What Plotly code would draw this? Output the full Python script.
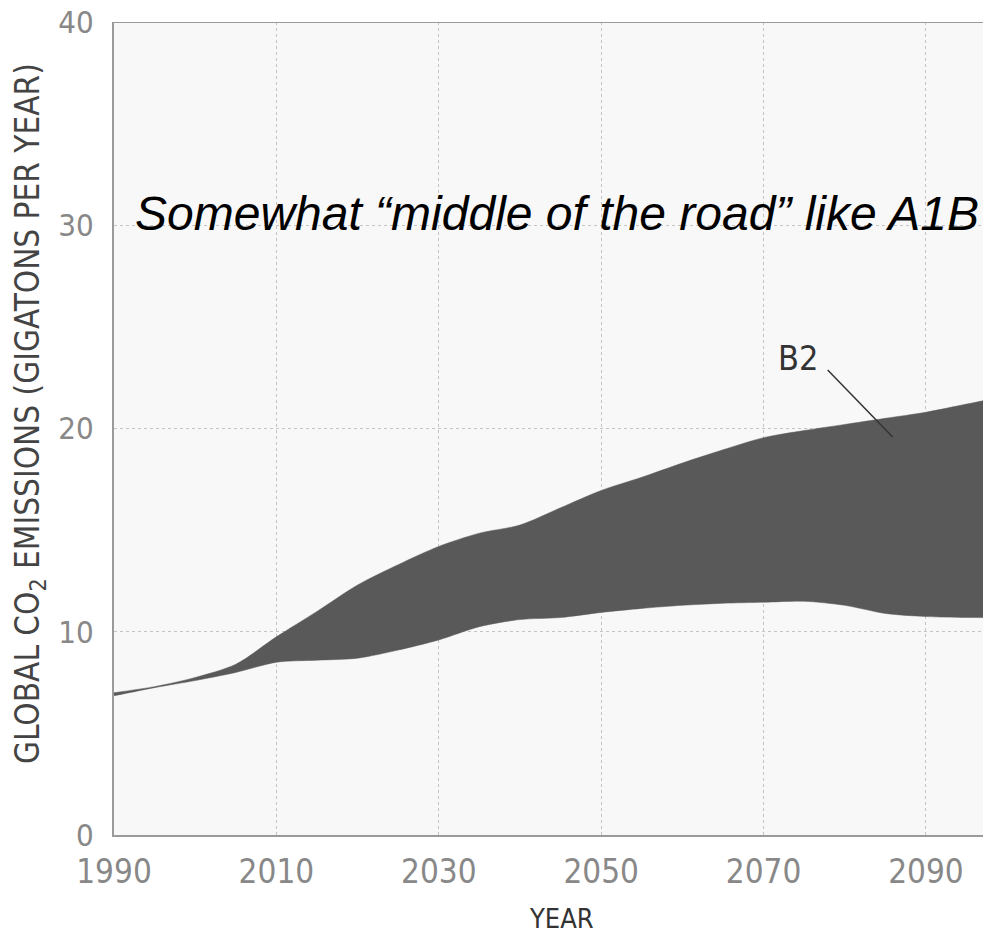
import plotly.graph_objects as go

years = [1990, 1995, 2000, 2005, 2010, 2015, 2020, 2025, 2030, 2035, 2040, 2045,
         2050, 2055, 2060, 2065, 2070, 2075, 2080, 2085, 2090, 2095, 2100]
b2_upper = [7.0, 7.3, 7.75, 8.4, 9.75, 11.0, 12.3, 13.3, 14.2, 14.85, 15.25, 16.1,
            16.95, 17.6, 18.3, 18.95, 19.55, 19.9, 20.2, 20.5, 20.8, 21.2, 21.6]
b2_lower = [6.85, 7.25, 7.6, 8.0, 8.5, 8.6, 8.7, 9.1, 9.6, 10.25, 10.6, 10.7,
            10.95, 11.15, 11.3, 11.4, 11.45, 11.5, 11.3, 10.9, 10.75, 10.7, 10.7]
x_ticks = [1990, 2010, 2030, 2050, 2070, 2090]
y_ticks = [0, 10, 20, 30, 40]

NARROW = "Liberation Sans Narrow, DejaVu Sans Condensed, Arial Narrow, sans-serif"
BAND = "#595959"

# page body has an 8px default margin: lay out in figure coords = screen - 8
PW = 991 - 106      # plot width in px
PH = 933 - 14 - 106  # plot height in px


def px_x(sx):
    return (sx - 114) / PW


def px_y(sy):
    return (835 - sy) / PH


fig = go.Figure()
fig.add_trace(go.Scatter(x=years, y=b2_lower, mode="lines",
                         line=dict(color=BAND, width=0.5, shape="spline", smoothing=0.8),
                         showlegend=False, hoverinfo="skip"))
fig.add_trace(go.Scatter(x=years, y=b2_upper, mode="lines",
                         line=dict(color=BAND, width=0.5, shape="spline", smoothing=0.8),
                         fill="tonexty", fillcolor=BAND, showlegend=False, hoverinfo="skip"))

fig.update_layout(
    width=991, height=933,
    margin=dict(l=106, r=0, t=14, b=106, autoexpand=False),
    paper_bgcolor="white",
    plot_bgcolor="#f8f8f8",
    showlegend=False,
    xaxis=dict(range=[1990, 2099], tickvals=x_ticks, ticktext=[str(v) for v in x_ticks],
               showgrid=True, gridcolor="#c4c4c4", griddash="dot", gridwidth=1,
               showline=True, linecolor="#9a9a9a", linewidth=2, mirror=False,
               ticks="", ticklabelstandoff=6, zeroline=False, automargin=False,
               ticklabeloverflow="allow",
               tickfont=dict(family=NARROW, size=33, color="#888888")),
    yaxis=dict(range=[0, 40], tickvals=y_ticks,
               showgrid=True, gridcolor="#c4c4c4", griddash="dot", gridwidth=1,
               showline=True, linecolor="#9a9a9a", linewidth=2,
               ticks="", ticklabelstandoff=12, zeroline=False, automargin=False,
               ticklabeloverflow="allow",
               tickfont=dict(family=NARROW, size=31, color="#888888")),
    shapes=[
        dict(type="line", xref="paper", yref="y", x0=0, x1=1, y0=40, y1=40,
             line=dict(color="#9a9a9a", width=2)),
        dict(type="line", xref="x", yref="y", x0=2077.9, y0=22.88, x1=2085.9, y1=19.58,
             line=dict(color="#333333", width=1.5)),
    ],
    annotations=[
        dict(text="Somewhat \u201cmiddle of the road\u201d like A1B", xref="x", yref="y",
             x=1992.3, y=30.6, xanchor="left", yanchor="middle", showarrow=False,
             font=dict(family="Liberation Sans, Arial, sans-serif", size=48, color="black",
                       style="italic")),
        dict(text="B2", xref="x", yref="y", x=2074.2, y=23.45, xanchor="center", yanchor="middle",
             showarrow=False, font=dict(family=NARROW, size=34, color="#333333")),
        dict(text="GLOBAL CO<sub>2</sub> EMISSIONS (GIGATONS PER YEAR)", xref="paper", yref="paper",
             x=px_x(29), y=px_y(414), xanchor="center", yanchor="middle",
             textangle=-90, showarrow=False,
             font=dict(family=NARROW, size=33, color="#444444")),
        dict(text="YEAR", xref="paper", yref="paper", x=px_x(561), y=px_y(918),
             xanchor="center", yanchor="middle", showarrow=False,
             font=dict(family=NARROW, size=27, color="#333333")),
    ],
)

fig.write_html("out.html")
